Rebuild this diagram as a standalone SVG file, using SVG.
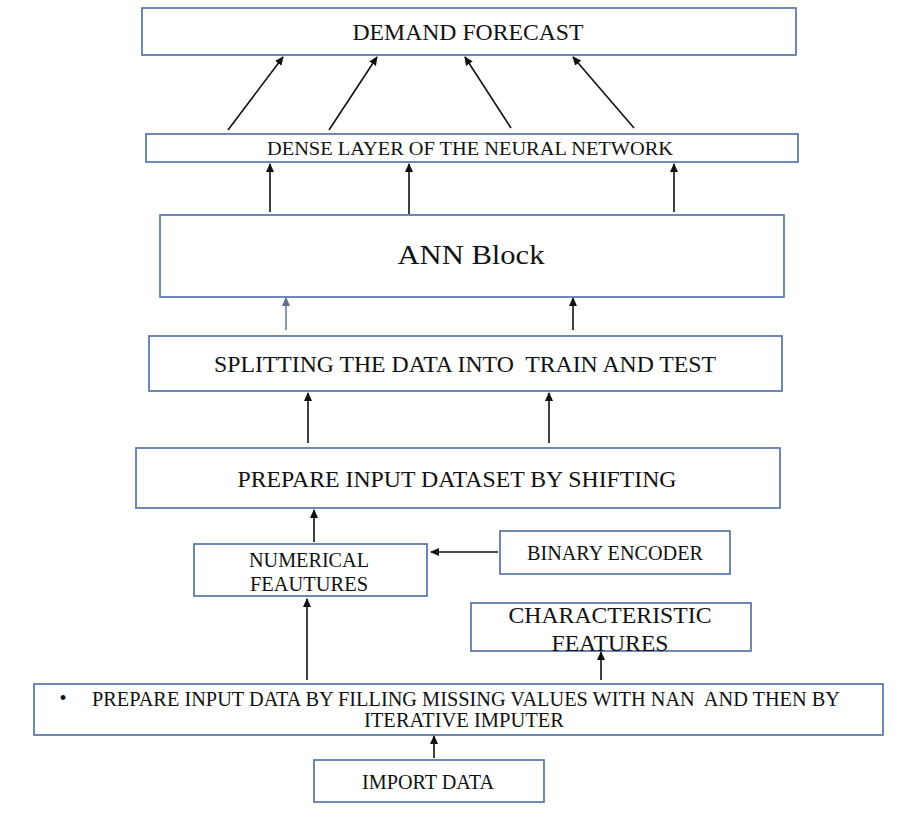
<svg xmlns="http://www.w3.org/2000/svg" width="898" height="823" viewBox="0 0 898 823">
<style>
.box{fill:#fff;stroke:#4a6ca6;stroke-width:1.6}
.t{font-family:"Liberation Serif","Times New Roman",serif;fill:#111;text-anchor:middle}
.c{stroke:#111;stroke-width:1.6;fill:none;marker-end:url(#ah)}
.cb{stroke:#5b6f8c;stroke-width:1.4;fill:none;marker-end:url(#ahb)}
</style>
<defs>
<marker id="ah" markerUnits="userSpaceOnUse" markerWidth="10" markerHeight="10" refX="8" refY="4" orient="auto"><path d="M0,0 L9,4 L0,8 z" fill="#111"/></marker>
<marker id="ahb" markerUnits="userSpaceOnUse" markerWidth="10" markerHeight="10" refX="8" refY="4" orient="auto"><path d="M0,0 L9,4 L0,8 z" fill="#5b6f8c"/></marker>
</defs>
<rect width="898" height="823" fill="#fff"/>
<g id="demand-forecast"><rect class="box" x="142" y="8" width="654" height="47"/><text class="t" x="468" y="40" font-size="24" textLength="231" lengthAdjust="spacingAndGlyphs">DEMAND FORECAST</text></g>
<g id="dense-layer"><rect class="box" x="146" y="134" width="652" height="28"/><text class="t" x="470" y="155" font-size="19" textLength="406" lengthAdjust="spacingAndGlyphs">DENSE LAYER OF THE NEURAL NETWORK</text></g>
<g id="ann-block"><rect class="box" x="160" y="215" width="624" height="82"/><text class="t" x="471" y="264" font-size="27" textLength="147" lengthAdjust="spacingAndGlyphs">ANN Block</text></g>
<g id="splitting"><rect class="box" x="149" y="336" width="633" height="55"/><text class="t" x="465" y="372" font-size="23" textLength="502" lengthAdjust="spacingAndGlyphs" xml:space="preserve">SPLITTING THE DATA INTO  TRAIN AND TEST</text></g>
<g id="prepare-dataset"><rect class="box" x="136" y="448" width="644" height="60"/><text class="t" x="457" y="487" font-size="24" textLength="439" lengthAdjust="spacingAndGlyphs">PREPARE INPUT DATASET BY SHIFTING</text></g>
<g id="numerical-features"><rect class="box" x="194" y="544" width="233" height="52"/><text class="t" x="309" y="567" font-size="20" textLength="120" lengthAdjust="spacingAndGlyphs">NUMERICAL</text><text class="t" x="309" y="591" font-size="20" textLength="118" lengthAdjust="spacingAndGlyphs">FEAUTURES</text></g>
<g id="binary-encoder"><rect class="box" x="500" y="531" width="230" height="43"/><text class="t" x="615" y="560" font-size="21" textLength="176" lengthAdjust="spacingAndGlyphs">BINARY ENCODER</text></g>
<g id="characteristic-features"><rect class="box" x="471" y="603" width="280" height="48"/><text class="t" x="610" y="623" font-size="23" textLength="203" lengthAdjust="spacingAndGlyphs">CHARACTERISTIC</text><text class="t" x="610" y="651" font-size="23" textLength="117" lengthAdjust="spacingAndGlyphs">FEATURES</text></g>
<g id="prepare-data"><rect class="box" x="34" y="684" width="849" height="51"/><text class="t" x="63" y="705" font-size="20">•</text><text class="t" x="466" y="706" font-size="20" textLength="748" lengthAdjust="spacingAndGlyphs" xml:space="preserve">PREPARE INPUT DATA BY FILLING MISSING VALUES WITH NAN  AND THEN BY</text><text class="t" x="464" y="727" font-size="20" textLength="200" lengthAdjust="spacingAndGlyphs">ITERATIVE IMPUTER</text></g>
<g id="import-data"><rect class="box" x="314" y="760" width="230" height="42"/><text class="t" x="428" y="789" font-size="20" textLength="132" lengthAdjust="spacingAndGlyphs">IMPORT DATA</text></g>
<g id="connectors">
<line class="c" x1="228" y1="130" x2="283" y2="57"/>
<line class="c" x1="329" y1="130" x2="377" y2="57"/>
<line class="c" x1="511" y1="128" x2="465" y2="57"/>
<line class="c" x1="634" y1="128" x2="573" y2="57"/>
<line class="c" x1="270" y1="212" x2="270" y2="164"/>
<line class="c" x1="409" y1="214" x2="409" y2="164"/>
<line class="c" x1="674" y1="212" x2="674" y2="164"/>
<line class="cb" x1="286" y1="330" x2="286" y2="298"/>
<line class="c" x1="573" y1="330" x2="573" y2="298"/>
<line class="c" x1="308" y1="443" x2="308" y2="393"/>
<line class="c" x1="549" y1="443" x2="549" y2="393"/>
<line class="c" x1="314" y1="542" x2="314" y2="510"/>
<line class="c" x1="498" y1="552" x2="431" y2="552"/>
<line class="c" x1="307" y1="680" x2="307" y2="599"/>
<line class="c" x1="601" y1="680" x2="601" y2="652"/>
<line class="c" x1="434" y1="758" x2="434" y2="736"/>
</g>
</svg>
